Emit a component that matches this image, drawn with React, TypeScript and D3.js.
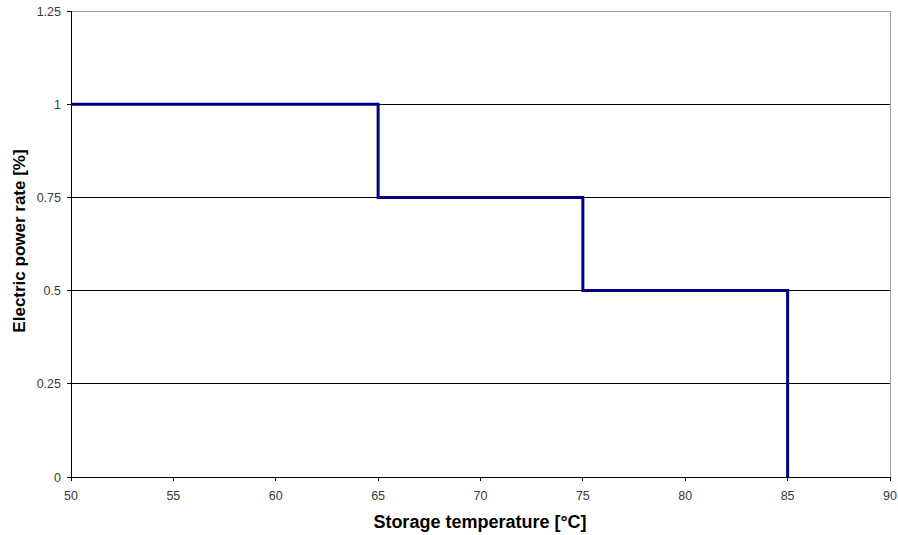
import React from "react";
import * as d3 from "d3";

const temps = [50, 65, 65, 75, 75, 85, 85];
const rates = [1, 1, 0.75, 0.75, 0.5, 0.5, 0];
const xTicks = [50, 55, 60, 65, 70, 75, 80, 85, 90];
const yTicks = [0, 0.25, 0.5, 0.75, 1, 1.25];
const yTickLabels = ["0", "0.25", "0.5", "0.75", "1", "1.25"];

const W = 898, H = 535;
const L = 71, R = 890, T = 11, B = 477;

export default function App() {
  const x = d3.scaleLinear().domain([50, 90]).range([L, R]);
  const y = d3.scaleLinear().domain([0, 1.25]).range([B, T]);
  const pts = temps.map((t, i) => [t, rates[i]] as [number, number]);
  const line = d3.line<[number, number]>().x(d => x(d[0])).y(d => y(d[1]));
  const font = "Arial, 'Liberation Sans', sans-serif";
  return (
    <svg width={W} height={H} style={{ position: "absolute", left: 0, top: 0, background: "#fff" }}>
      <rect x={0} y={0} width={W} height={H} fill="#fff" />
      {yTicks.map((v, i) => (
        <line key={"g" + i} x1={L} x2={R} y1={y(v)} y2={y(v)}
          stroke={v === 1.25 ? "#a0a0a0" : "#000"} strokeWidth={1} shapeRendering="crispEdges" />
      ))}
      <line x1={R} x2={R} y1={T} y2={B} stroke="#a0a0a0" strokeWidth={1} shapeRendering="crispEdges" />
      <line x1={L} x2={L} y1={T} y2={B} stroke="#000" strokeWidth={1} shapeRendering="crispEdges" />
      <line x1={L} x2={R} y1={B} y2={B} stroke="#000" strokeWidth={1} shapeRendering="crispEdges" />
      {yTicks.map((v, i) => (
        <g key={"y" + i}>
          <line x1={L - 4} x2={L} y1={y(v)} y2={y(v)} stroke="#000" shapeRendering="crispEdges" />
          <text x={L - 10} y={y(v)} dy="0.36em" textAnchor="end" fontFamily={font} fontSize={12.5} fill="#3a3a3a">{yTickLabels[i]}</text>
        </g>
      ))}
      {xTicks.map((v, i) => (
        <g key={"x" + i}>
          <line x1={x(v)} x2={x(v)} y1={B} y2={B + 4} stroke="#000" shapeRendering="crispEdges" />
          <text x={x(v)} y={B + 23} textAnchor="middle" fontFamily={font} fontSize={12.5} fill="#3a3a3a">{v}</text>
        </g>
      ))}
      <path d={line(pts) || ""} fill="none" stroke="#000080" strokeWidth={3} />
      <text x={480} y={528} textAnchor="middle" fontFamily={font} fontSize={18} fontWeight="bold" fill="#000">Storage temperature [°C]</text>
      <text transform={`translate(25,241) rotate(-90)`} textAnchor="middle" fontFamily={font} fontSize={17} fontWeight="bold" fill="#000">Electric power rate [%]</text>
    </svg>
  );
}
